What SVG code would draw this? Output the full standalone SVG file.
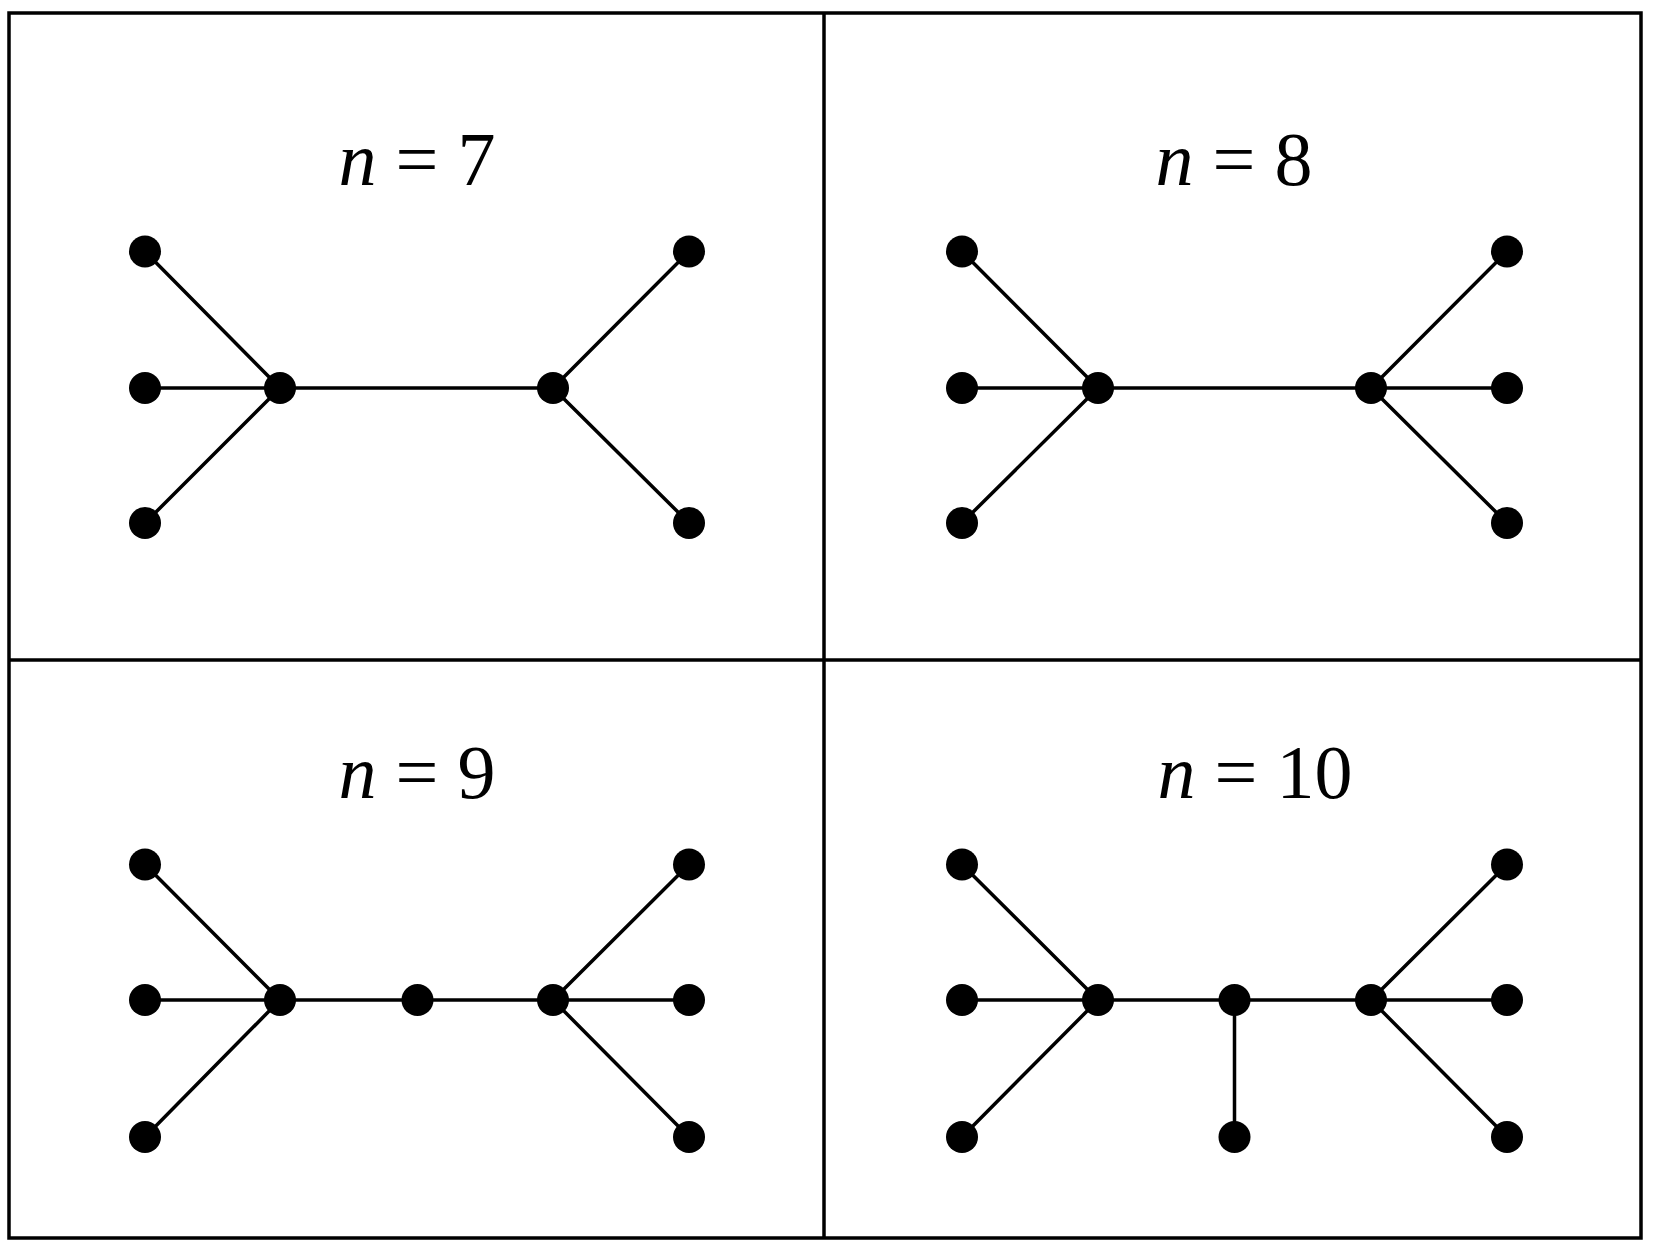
<svg xmlns="http://www.w3.org/2000/svg" width="1656" height="1250" viewBox="0 0 1656 1250">
<style>
.e{stroke:#000;stroke-width:3.5;fill:none}
.n{fill:#000}
.t{font-family:"Liberation Serif",serif;font-size:76px;text-anchor:middle}
.i{font-style:italic}
</style>
<rect width="1656" height="1250" fill="#fff"/>
<g id="frame" class="e"><rect x="9" y="13" width="1632" height="1225"/><line x1="824" y1="13" x2="824" y2="1238"/><line x1="9" y1="660" x2="1641" y2="660"/></g>
<g id="labels">
<text class="t" x="417" y="185"><tspan class="i">n</tspan> = 7</text>
<text class="t" x="1234" y="185"><tspan class="i">n</tspan> = 8</text>
<text class="t" x="417" y="798"><tspan class="i">n</tspan> = 9</text>
<text class="t" x="1255" y="798"><tspan class="i">n</tspan> = 10</text>
</g>
<g id="connectors" class="e">
<path d="M145 251.5L280 388M145 388H553M145 523L280 388M553 388L689 251.5M553 388L689 523"/>
<path d="M962 251.5L1098 388M962 388H1507M962 523L1098 388M1371 388L1507 251.5M1371 388L1507 523"/>
<path d="M145 864.5L280 1000M145 1000H689M145 1137L280 1000M553 1000L689 864.5M553 1000L689 1137"/>
<path d="M962 864.5L1098 1000M962 1000H1507M962 1137L1098 1000M1371 1000L1507 864.5M1371 1000L1507 1137M1234.5 1000V1137"/>
</g>
<g id="nodes" class="n">
<circle cx="145" cy="251.5" r="16"/><circle cx="145" cy="388" r="16"/><circle cx="145" cy="523" r="16"/><circle cx="280" cy="388" r="16"/><circle cx="553" cy="388" r="16"/><circle cx="689" cy="251.5" r="16"/><circle cx="689" cy="523" r="16"/>
<circle cx="962" cy="251.5" r="16"/><circle cx="962" cy="388" r="16"/><circle cx="962" cy="523" r="16"/><circle cx="1098" cy="388" r="16"/><circle cx="1371" cy="388" r="16"/><circle cx="1507" cy="251.5" r="16"/><circle cx="1507" cy="388" r="16"/><circle cx="1507" cy="523" r="16"/>
<circle cx="145" cy="864.5" r="16"/><circle cx="145" cy="1000" r="16"/><circle cx="145" cy="1137" r="16"/><circle cx="280" cy="1000" r="16"/><circle cx="417.5" cy="1000" r="16"/><circle cx="553" cy="1000" r="16"/><circle cx="689" cy="864.5" r="16"/><circle cx="689" cy="1000" r="16"/><circle cx="689" cy="1137" r="16"/>
<circle cx="962" cy="864.5" r="16"/><circle cx="962" cy="1000" r="16"/><circle cx="962" cy="1137" r="16"/><circle cx="1098" cy="1000" r="16"/><circle cx="1234.5" cy="1000" r="16"/><circle cx="1234.5" cy="1137" r="16"/><circle cx="1371" cy="1000" r="16"/><circle cx="1507" cy="864.5" r="16"/><circle cx="1507" cy="1000" r="16"/><circle cx="1507" cy="1137" r="16"/>
</g>
</svg>
